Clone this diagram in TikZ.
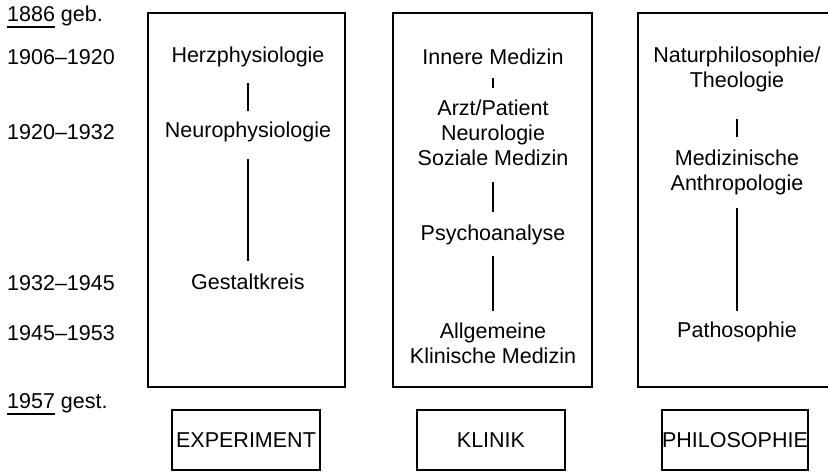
\documentclass[tikz,border=0pt]{standalone}
\usepackage{fontspec}
\setmainfont{Liberation Sans}
\newcommand\yearline[1]{\setbox0\hbox{#1}\rlap{\rule[-6pt]{\wd0}{1.4pt}}\box0\relax}
\tikzset{
  field/.style={draw,line width=1.7pt,minimum width=#1,minimum height=374pt,inner sep=0pt},
  label box/.style={draw,line width=1.7pt,minimum width=#1,minimum height=60pt,inner sep=0pt},
  topic/.style={inner sep=0pt,align=center},
  year/.style={inner sep=0pt,anchor=west},
  conn/.style={line width=1.7pt},
}
\begin{document}
\begin{tikzpicture}[x=1pt,y=-1pt,font=\fontsize{21.5}{25}\selectfont]
\useasboundingbox (0,0) rectangle (828,472);
\clip (0,0) rectangle (828,472);
% years
\node[year] (Y0) at (7,17) {\yearline{1886} geb.};
\node[year] (Y1) at (7,57) {1906--1920};
\node[year] (Y2) at (7,132) {1920--1932};
\node[year] (Y3) at (7,283) {1932--1945};
\node[year] (Y4) at (7,333) {1945--1953};
\node[year] (Y5) at (7,404) {\yearline{1957} gest.};
% columns
\node[field=197pt] (F1) at (246.5,200) {};
\node[field=199pt] (F2) at (492.5,200) {};
\node[field=198pt] (F3) at (737,200) {};
\node[label box=148pt] (B1) at (246,440) {EXPERIMENT};
\node[label box=148pt] (B2) at (491,440) {KLINIK};
\node[label box=146pt] (B3) at (735,440) {PHILOSOPHIE};
% experiment
\node[topic] (E1) at (248,57) {Herzphysiologie};
\node[topic] (E2) at (248,132) {Neurophysiologie};
\node[topic] (E3) at (248,282) {Gestaltkreis};
\draw[conn,shorten <=16pt,shorten >=11pt] (E1) -- (E2);
\draw[conn,shorten <=17pt,shorten >=13pt] (E2) -- (E3);
% klinik
\node[topic] (K1) at (493,57) {Innere Medizin};
\node[topic] (K2) at (493,133) {Arzt/Patient\\Neurologie\\Soziale Medizin};
\node[topic] (K3) at (493,235) {Psychoanalyse};
\node[topic] (K4) at (493,343.5) {Allgemeine\\Klinische Medizin};
\draw[conn,shorten <=13pt,shorten >=12pt] (K1) -- (K2);
\draw[conn,shorten <=16pt,shorten >=13pt] (K2) -- (K3);
\draw[conn,shorten <=11pt,shorten >=12pt] (K3) -- (K4);
% philosophie
\node[topic] (P1) at (737,69.5) {Naturphilosophie/\\Theologie};
\node[topic] (P2) at (737,172) {Medizinische\\Anthropologie};
\node[topic] (P3) at (737,332) {Pathosophie};
\draw[conn,shorten <=27pt,shorten >=12pt] (P1) -- (P2);
\draw[conn,shorten <=13pt,shorten >=11pt] (P2) -- (P3);
\end{tikzpicture}
\end{document}
